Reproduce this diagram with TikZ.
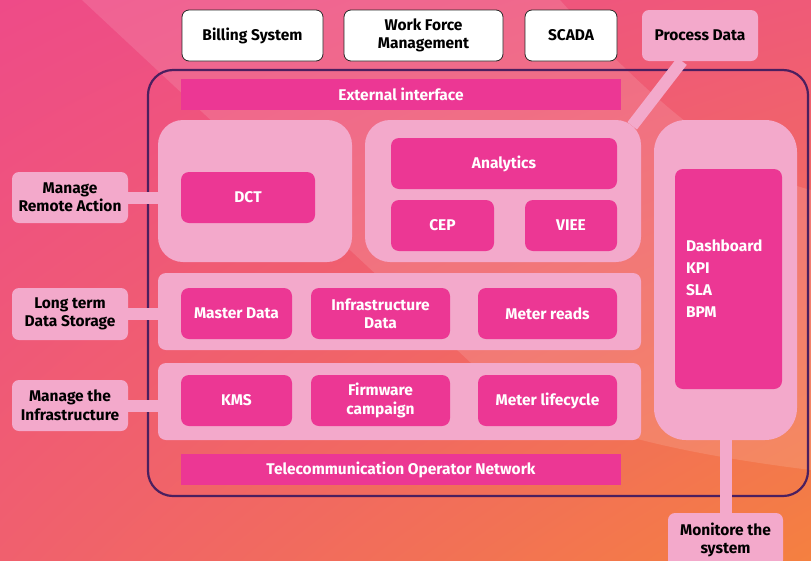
\documentclass[tikz,border=0pt]{standalone}
\usepackage{fontspec}
\setmainfont{Fira Sans}
\usetikzlibrary{positioning, shadings}

\definecolor{bgtl}{HTML}{EE4B88}
\definecolor{bgtr}{HTML}{EF5A78}
\definecolor{bgbl}{HTML}{F0606E}
\definecolor{bgbr}{HTML}{F48040}
\definecolor{softpink}{HTML}{F3A9CB}
\definecolor{magenta}{HTML}{EC3794}
\definecolor{framepurple}{HTML}{4B1F5F}

\tikzset{
  ext/.style={draw=black!85, fill=white, line width=0.8pt, rounded corners=7pt,
    inner sep=0pt, align=center, text=black,
    font=\bfseries\fontsize{15.5}{18.5}\selectfont},
  tag/.style={fill=softpink, rounded corners=7pt, inner sep=0pt, align=center,
    text=black, font=\bfseries\fontsize{15.5}{18.5}\selectfont},
  panel/.style={fill=softpink, rounded corners=25pt, inner sep=0pt},
  strip/.style={fill=softpink, rounded corners=8pt, inner sep=0pt},
  mod/.style={fill=magenta, rounded corners=8pt, inner sep=0pt, align=center,
    text=white, font=\bfseries\fontsize{15.5}{18.5}\selectfont},
  bar/.style={fill=magenta, inner sep=0pt, text=white,
    font=\bfseries\fontsize{15.5}{18.5}\selectfont},
  link/.style={draw=softpink, line width=12pt},
}

\begin{document}
\begin{tikzpicture}[x=1pt, y=-1pt]
  \useasboundingbox (0,0) rectangle (811,560);
  % Background
  \shade[upper left=bgtl, upper right=bgtr, lower left=bgbl, lower right=bgbr]
    (0,0) rectangle (811,560);
  \fill[white, opacity=0.12] (82,0) -- (560,0) .. controls (640,90) and (730,170) .. (811,190)
    -- (811,470) .. controls (650,450) and (540,420) .. (470,362) -- cycle;

  % External systems
  \node[ext, minimum width=141pt, minimum height=51pt] (bill) at (252.5,35.5) {Billing System};
  \node[ext, minimum width=159pt, minimum height=51pt] (wfm) at (423.5,35.5) {Work Force\\Management};
  \node[ext, minimum width=92pt, minimum height=51pt] (scada) at (571,35.5) {SCADA};
  \node[tag, minimum width=116pt, minimum height=51pt] (pd) at (700,35.5) {Process Data};

  % Platform frame
  \draw[framepurple, line width=2.2pt, rounded corners=25pt] (148,70) rectangle (808,496);
  \node[bar, minimum width=440pt, minimum height=31pt] (extif) at (401,94.5) {External interface};
  \node[bar, minimum width=440pt, minimum height=31pt] (telco) at (401,469.5) {Telecommunication Operator Network};

  % Panels
  \node[panel, minimum width=194pt, minimum height=142pt] (dctp) at (255,191) {};
  \node[panel, minimum width=276pt, minimum height=142pt] (anap) at (503,191) {};
  \node[panel, rounded corners=32pt, minimum width=143pt, minimum height=320pt] (rp) at (725.5,280) {};
  \node[strip, minimum width=483pt, minimum height=77pt] (storp) at (399.5,311.5) {};
  \node[strip, minimum width=483pt, minimum height=77pt] (infp) at (399.5,401.5) {};

  % Modules
  \node[mod, minimum width=134pt, minimum height=51pt] (dct) at (248,197.5) {DCT};
  \node[mod, minimum width=226pt, minimum height=51pt] (ana) at (504,163.5) {Analytics};
  \node[mod, minimum width=103pt, minimum height=51pt] (cep) at (442.5,225.5) {CEP};
  \node[mod, minimum width=92pt, minimum height=51pt] (viee) at (571,225.5) {VIEE};
  \node[mod, minimum width=107pt, minimum height=220pt, text width=85pt, align=left,
    font=\bfseries\fontsize{15.5}{22}\selectfont] (dash) at (728.5,279) {Dashboard\\KPI\\SLA\\BPM};
  \node[mod, minimum width=111pt, minimum height=51pt] (master) at (236.5,313.5) {Master Data};
  \node[mod, minimum width=139pt, minimum height=51pt] (infd) at (380.5,313.5) {Infrastructure\\Data};
  \node[mod, minimum width=139pt, minimum height=51pt] (reads) at (547.5,313.5) {Meter reads};
  \node[mod, minimum width=111pt, minimum height=51pt] (kms) at (236.5,400.5) {KMS};
  \node[mod, minimum width=139pt, minimum height=51pt] (fw) at (380.5,400.5) {Firmware\\campaign};
  \node[mod, minimum width=139pt, minimum height=51pt] (life) at (547.5,400.5) {Meter lifecycle};

  % Roles
  \node[tag, minimum width=116pt, minimum height=51pt] (remote) at (70,197.5) {Manage\\Remote Action};
  \node[tag, minimum width=116pt, minimum height=52pt] (store) at (70,314) {Long term\\Data Storage};
  \node[tag, minimum width=116pt, minimum height=51pt] (manage) at (70,405.5) {Manage the\\Infrastructure};
  \node[tag, minimum width=115pt, minimum height=54pt] (mon) at (725.5,540) {Monitore the\\system};

  % Connections
  \draw[link] (remote.east) -- (remote.east -| dctp.west);
  \draw[link] (store.east) -- (store.east -| storp.west);
  \draw[link] (manage.east) -- (manage.east -| infp.west);
  \draw[link] (rp.south) -- (mon.north);
  \draw[link] ([xshift=-18pt]pd.south) -- ([xshift=-9pt, yshift=-6pt]anap.north east);
\end{tikzpicture}
\end{document}
